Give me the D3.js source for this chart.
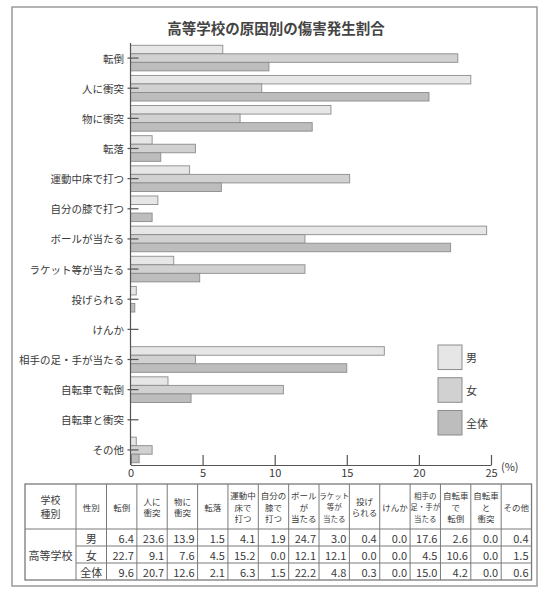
<!DOCTYPE html>
<html lang="ja">
<head>
    <meta charset="utf-8" />
    <title>高等学校の原因別の傷害発生割合</title>
    <script src="https://d3js.org/d3.v7.min.js"></script>
    <style>
        body { margin: 0; background: white; }
        text {
            font-family: "Noto Sans CJK JP", "Noto Sans", sans-serif;
            fill: #3a3a3a;
        }
    </style>
</head>
<body>
    <script>
        // Categories (causes of injury)
        const causes = ["転倒", "人に衝突", "物に衝突", "転落", "運動中床で打つ", "自分の膝で打つ",
            "ボールが当たる", "ラケット等が当たる", "投げられる", "けんか", "相手の足・手が当たる",
            "自転車で転倒", "自転車と衝突", "その他"];

        // Series
        const seriesNames = ["男", "女", "全体"];
        const male   = [6.4, 23.6, 13.9, 1.5, 4.1, 1.9, 24.7, 3.0, 0.4, 0.0, 17.6, 2.6, 0.0, 0.4];
        const female = [22.7, 9.1, 7.6, 4.5, 15.2, 0.0, 12.1, 12.1, 0.0, 0.0, 4.5, 10.6, 0.0, 1.5];
        const total  = [9.6, 20.7, 12.6, 2.1, 6.3, 1.5, 22.2, 4.8, 0.3, 0.0, 15.0, 4.2, 0.0, 0.6];

        // x axis tick labels
        const xTicks = [0, 5, 10, 15, 20, 25];

        // Table header text (one array per column, one entry per line)
        const tableHeaders = [["学校", "種別"], ["性別"], ["転倒"], ["人に", "衝突"], ["物に", "衝突"], ["転落"],
            ["運動中", "床で", "打つ"], ["自分の", "膝で", "打つ"], ["ボール", "が", "当たる"],
            ["ラケット", "等が", "当たる"], ["投げ", "られる"], ["けんか"], ["相手の", "足・手が", "当たる"],
            ["自転車", "で", "転倒"], ["自転車", "と", "衝突"], ["その他"]];
        const schoolType = "高等学校";

        const width = 541, height = 591;
        const colors = ["#e6e6e6", "#d1d1d1", "#bdbdbd"];
        const seriesValues = [male, female, total];

        const svg = d3.select("body").append("svg")
            .attr("width", width)
            .attr("height", height);

        // Outer frame
        svg.append("rect")
            .attr("x", 12).attr("y", 7)
            .attr("width", 525).attr("height", 579)
            .attr("fill", "white")
            .attr("stroke", "#9a9a9a")
            .attr("stroke-width", 1.5);

        // Title
        svg.append("text")
            .attr("x", 276).attr("y", 27)
            .attr("text-anchor", "middle")
            .attr("dominant-baseline", "central")
            .style("font-size", "14.5px")
            .style("font-weight", "bold")
            .style("fill", "#444")
            .text("高等学校の原因別の傷害発生割合");

        // Scales
        const x = d3.scaleLinear().domain([0, 25]).range([130.5, 491]);
        const y = d3.scaleBand().domain(causes).range([43, 465])
            .paddingInner(0.15).paddingOuter(0.075);
        const ySub = d3.scaleBand().domain(seriesNames).range([0, y.bandwidth()]);

        // Bars
        const groups = svg.selectAll("g.cause")
            .data(causes)
            .enter()
            .append("g")
            .attr("class", "cause")
            .attr("transform", d => `translate(0, ${y(d)})`);

        groups.selectAll("rect")
            .data((d, i) => seriesNames.map((s, k) => ({ s: s, v: seriesValues[k][i], k: k })))
            .enter()
            .append("rect")
            .attr("x", x(0))
            .attr("y", d => ySub(d.s))
            .attr("width", d => x(d.v) - x(0))
            .attr("height", ySub.bandwidth())
            .attr("fill", d => colors[d.k])
            .attr("stroke", "#8c8c8c")
            .attr("stroke-width", 0.9);

        // Category labels
        svg.selectAll("text.cat")
            .data(causes)
            .enter()
            .append("text")
            .attr("class", "cat")
            .attr("x", 124)
            .attr("y", d => y(d) + y.bandwidth() / 2)
            .attr("text-anchor", "end")
            .attr("dominant-baseline", "central")
            .style("font-size", "10.5px")
            .text(d => d);

        // Y axis line and ticks
        svg.append("line")
            .attr("x1", x(0)).attr("x2", x(0))
            .attr("y1", 43).attr("y2", 465)
            .attr("stroke", "#555").attr("stroke-width", 1.2);

        svg.selectAll("line.ytick")
            .data(causes)
            .enter()
            .append("line")
            .attr("class", "ytick")
            .attr("x1", x(0) - 3).attr("x2", x(0) + 8)
            .attr("y1", d => y(d) + y.bandwidth() / 2)
            .attr("y2", d => y(d) + y.bandwidth() / 2)
            .attr("stroke", "#555").attr("stroke-width", 1.2);

        // X axis (ticks pointing up)
        const xAxis = svg.append("g")
            .attr("transform", "translate(0, 465)")
            .call(d3.axisBottom(x).tickValues(xTicks).tickSizeInner(-10).tickSizeOuter(0).tickPadding(4));
        xAxis.selectAll("path, line").attr("stroke", "#555").attr("stroke-width", 1.2);
        xAxis.selectAll("text")
            .style("font-size", "11px")
            .style("font-family", "'Noto Sans CJK JP', sans-serif")
            .style("fill", "#3a3a3a");

        svg.append("text")
            .attr("x", 501).attr("y", 466)
            .attr("dominant-baseline", "central")
            .style("font-size", "11px")
            .text("(%)");

        // Legend
        const legendY = d3.scaleBand().domain(seriesNames).range([345, 435]).paddingInner(0.25);
        seriesNames.forEach((s, k) => {
            svg.append("rect")
                .attr("x", 438).attr("y", legendY(s))
                .attr("width", 24).attr("height", legendY.bandwidth())
                .attr("fill", colors[k])
                .attr("stroke", "#8c8c8c").attr("stroke-width", 1);
            svg.append("text")
                .attr("x", 466).attr("y", legendY(s) + legendY.bandwidth() / 2)
                .attr("dominant-baseline", "central")
                .style("font-size", "11px")
                .text(s);
        });

        // Data table
        const tableLeft = 25, tableTop = 484, headerH = 45, rowH = 17;
        const colWidths = [51, 30.5].concat(causes.map(() => 30.36));
        const colX = [tableLeft];
        colWidths.forEach((w, i) => colX.push(colX[i] + w));
        const tableRight = colX[colX.length - 1];
        const tableBottom = tableTop + headerH + rowH * seriesNames.length;

        const table = svg.append("g");
        const lineColor = "#7a7a7a";

        // outer border
        table.append("rect")
            .attr("x", tableLeft).attr("y", tableTop)
            .attr("width", tableRight - tableLeft).attr("height", tableBottom - tableTop)
            .attr("fill", "none").attr("stroke", lineColor).attr("stroke-width", 1.3);

        // vertical lines
        colX.slice(1, -1).forEach((cx, i) => {
            table.append("line")
                .attr("x1", cx).attr("x2", cx)
                .attr("y1", tableTop).attr("y2", tableBottom)
                .attr("stroke", lineColor).attr("stroke-width", 1);
        });

        // horizontal lines (the first column spans the data rows)
        seriesNames.forEach((s, r) => {
            const ly = tableTop + headerH + rowH * r;
            table.append("line")
                .attr("x1", r === 0 ? tableLeft : colX[1]).attr("x2", tableRight)
                .attr("y1", ly).attr("y2", ly)
                .attr("stroke", lineColor).attr("stroke-width", 1);
        });

        // header text
        tableHeaders.forEach((lines, c) => {
            const cx = (colX[c] + colX[c + 1]) / 2;
            const longest = d3.max(lines, t => t.length);
            const fs = c === 0 ? 10 : (longest >= 4 ? 7.5 : 8.5);
            const lh = c === 0 ? 14 : 11.5;
            const cy = tableTop + headerH / 2;
            lines.forEach((t, j) => {
                table.append("text")
                    .attr("x", cx)
                    .attr("y", cy + (j - (lines.length - 1) / 2) * lh)
                    .attr("text-anchor", "middle")
                    .attr("dominant-baseline", "central")
                    .style("font-size", fs + "px")
                    .text(t);
            });
        });

        // school type cell
        table.append("text")
            .attr("x", (colX[0] + colX[1]) / 2)
            .attr("y", tableTop + headerH + rowH * seriesNames.length / 2)
            .attr("text-anchor", "middle")
            .attr("dominant-baseline", "central")
            .style("font-size", "11px")
            .text(schoolType);

        // rows
        seriesNames.forEach((s, r) => {
            const cy = tableTop + headerH + rowH * r + rowH / 2;
            table.append("text")
                .attr("x", (colX[1] + colX[2]) / 2).attr("y", cy)
                .attr("text-anchor", "middle")
                .attr("dominant-baseline", "central")
                .style("font-size", "11px")
                .text(s);
            seriesValues[r].forEach((v, c) => {
                table.append("text")
                    .attr("x", colX[c + 3] - 3).attr("y", cy)
                    .attr("text-anchor", "end")
                    .attr("dominant-baseline", "central")
                    .style("font-size", "11px")
                    .text(v.toFixed(1));
            });
        });
    </script>
</body>
</html>
